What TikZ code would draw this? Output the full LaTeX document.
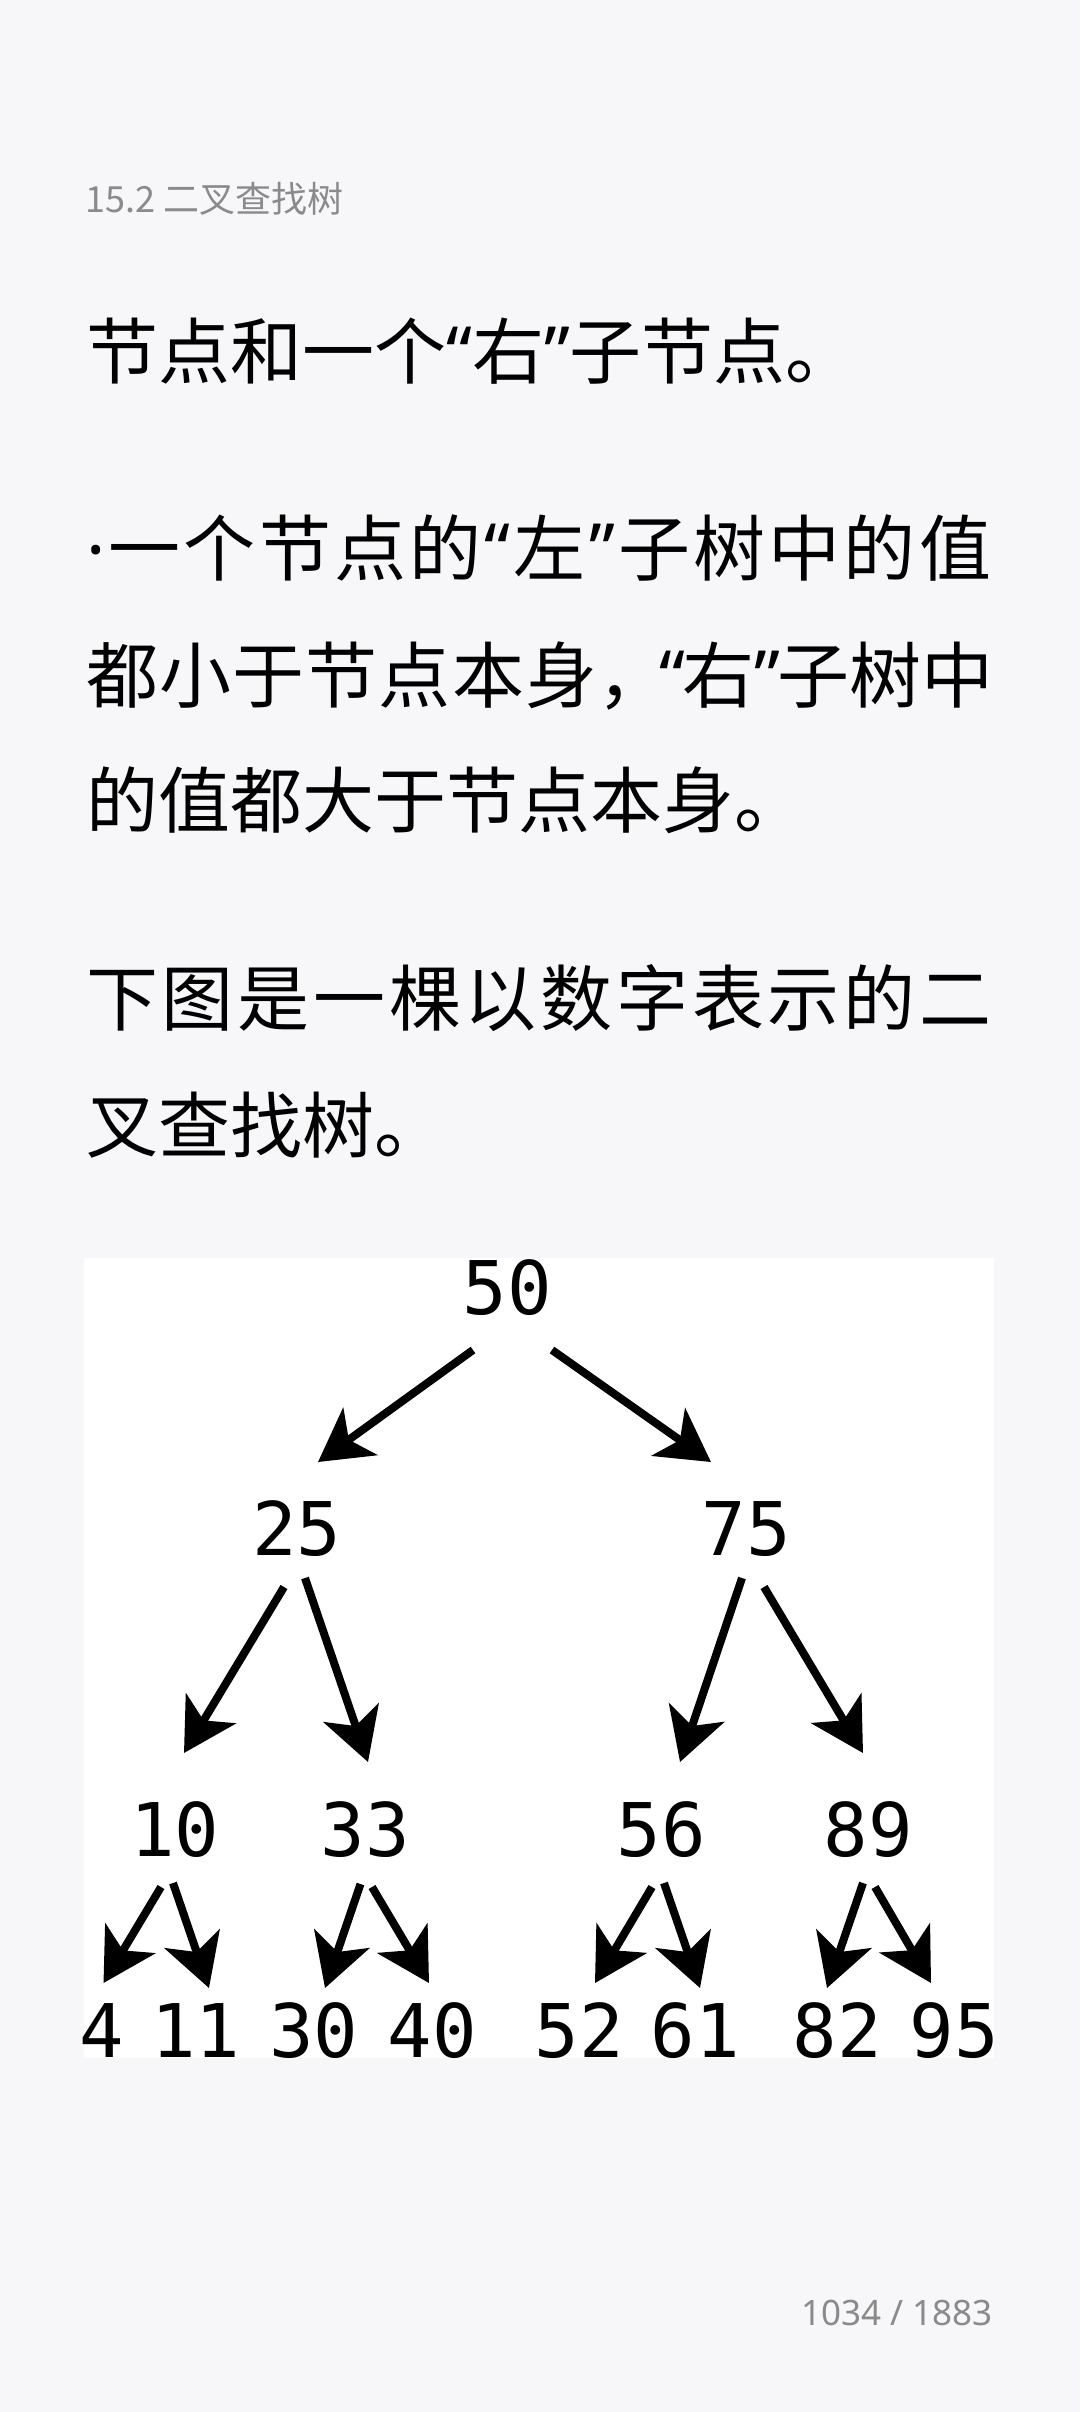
\documentclass[tikz,border=0pt]{standalone}
\usepackage{fontspec}
\usetikzlibrary{arrows.meta}
\newfontfamily\cjkfont{Noto Sans CJK SC}
\newfontfamily\monofont{DejaVu Sans Mono}
\newfontfamily\pagefont{Noto Sans}
\newfontfamily\latinq{Noto Sans}
\newcommand\qL{{\latinq “}}
\newcommand\qR{{\latinq ”}}
\newcommand\mdot{{\latinq ·}}
\newcommand\sq{\hfil}
\newcommand\tk{\kern1.2pt }
\definecolor{pagebg}{HTML}{F7F7F9}
\definecolor{graytext}{HTML}{8A8A8A}
\tikzset{
  bodyline/.style={anchor=base west, inner sep=0pt, font=\cjkfont\fontsize{72}{72}\selectfont, text=black},
  headline/.style={anchor=base west, inner sep=0pt, font=\cjkfont\fontsize{36}{36}\selectfont, text=graytext},
  pageline/.style={anchor=base east, inner sep=0pt, font=\pagefont\fontsize{35}{35}\selectfont, text=graytext},
  treenum/.style={anchor=center, inner sep=0pt, font=\monofont\fontsize{74}{74}\selectfont, text=black},
  treearrow/.style={line width=8pt, -{Stealth[length=52pt, width=58pt, inset=14pt]}},
}
\begin{document}
\begin{tikzpicture}[x=1pt, y=-1pt]
\useasboundingbox (0,0) rectangle (1080,2412);
\fill[pagebg] (0,0) rectangle (1080,2412);
% header
\node[headline] (head) at (85,212) {15.2 二叉查找树};
% body text
\node[bodyline] (l1) at (86,378) {节点和一个\qL 右\qR 子节点。};
\node[bodyline] (l2) at (86,575) {\hbox to 905pt{\mdot\sq 一\sq 个\sq 节\sq 点\sq 的\sq \qL\sq 左\sq \qR\sq 子\sq 树\sq 中\sq 的\sq 值}};
\node[bodyline] (l3) at (86,702) {\hbox to 907pt{都\tk 小\tk 于\tk 节\tk 点\tk 本\tk 身\makebox[56pt][l]{，}\hfil \qL\kern-3pt 右\qR\kern-3pt 子树中}};
\node[bodyline] (l4) at (86,827) {的值都大于节点本身。};
\node[bodyline] (l5) at (86,1025) {\hbox to 905pt{下\sq 图\sq 是\sq 一\sq 棵\sq 以\sq 数\sq 字\sq 表\sq 示\sq 的\sq 二}};
\node[bodyline] (l6) at (86,1152) {叉查找树。};
% tree panel
\fill[white] (84,1258) rectangle (994,2058);
\node[treenum] (n50) at (507,1288) {50};
\node[treenum] (n25) at (297,1529) {25};
\node[treenum] (n75) at (746,1529) {75};
\node[treenum] (n10) at (175,1830) {10};
\node[treenum] (n33) at (365,1830) {33};
\node[treenum] (n56) at (661,1830) {56};
\node[treenum] (n89) at (868,1830) {89};
\node[treenum] (n4) at (102,2031) {4};
\node[treenum] (n11) at (196,2031) {11};
\node[treenum] (n30) at (314,2031) {30};
\node[treenum] (n40) at (432,2031) {40};
\node[treenum] (n52) at (579,2031) {52};
\node[treenum] (n61) at (695,2031) {61};
\node[treenum] (n82) at (837,2031) {82};
\node[treenum] (n95) at (954,2031) {95};
% arrows
\draw[treearrow] ([shift={(-34,62)}]n50.center) -- ([shift={(21,-67)}]n25.center);
\draw[treearrow] ([shift={(45,62)}]n50.center) -- ([shift={(-35,-67)}]n75.center);
\draw[treearrow] ([shift={(-13,58)}]n25.center) -- ([shift={(9,-77)}]n10.center);
\draw[treearrow] ([shift={(8,49)}]n25.center) -- ([shift={(3,-68)}]n33.center);
\draw[treearrow] ([shift={(-4,49)}]n75.center) -- ([shift={(19,-68)}]n56.center);
\draw[treearrow] ([shift={(18,58)}]n75.center) -- ([shift={(-5,-77)}]n89.center);
\draw[treearrow] ([shift={(-14,57)}]n10.center) -- ([shift={(1.5,-48)}]n4.center);
\draw[treearrow] ([shift={(-2,53)}]n10.center) -- ([shift={(13,-43)}]n11.center);
\draw[treearrow] ([shift={(-4.5,54)}]n33.center) -- ([shift={(11,-43)}]n30.center);
\draw[treearrow] ([shift={(7,57)}]n33.center) -- ([shift={(-3,-48)}]n40.center);
\draw[treearrow] ([shift={(-9,57)}]n56.center) -- ([shift={(16,-48)}]n52.center);
\draw[treearrow] ([shift={(3,53)}]n56.center) -- ([shift={(5,-43)}]n61.center);
\draw[treearrow] ([shift={(-5,53)}]n89.center) -- ([shift={(-10,-43)}]n82.center);
\draw[treearrow] ([shift={(7,57)}]n89.center) -- ([shift={(-23,-48)}]n95.center);
% page number
\node[pageline] (pg) at (993,2325) {1034 / 1883};
\end{tikzpicture}
\end{document}
